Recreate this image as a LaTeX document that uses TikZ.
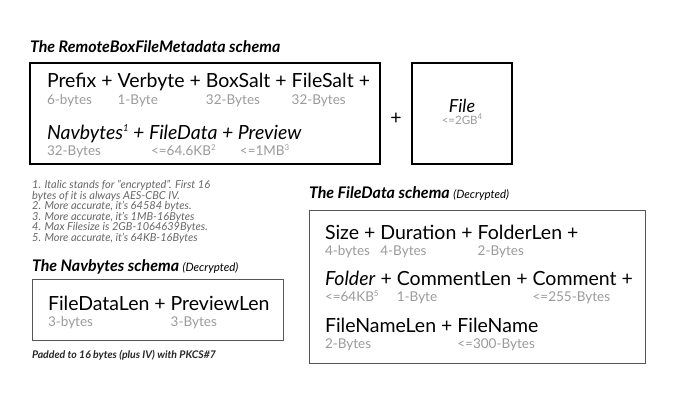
\documentclass[tikz,border=0pt]{standalone}
\usepackage{fontspec}
\setmainfont{Lato}
\usepackage{xcolor}
\definecolor{subgray}{HTML}{9A9A9A}
\definecolor{notegray}{HTML}{666666}
\definecolor{boxgray}{HTML}{555555}
\newcommand\subfnt{\fontsize{13.5}{13.5}\selectfont\color{subgray}}
\newcommand\wl[3][17pt]{\leavevmode\rlap{\raisebox{-#1}{\subfnt #3}}#2}
\newcommand\bigsup[1]{\raisebox{7.5pt}{\fontsize{9.5}{9.5}\selectfont #1}}
\newcommand\smsup[1]{\raisebox{5pt}{\fontsize{8}{8}\selectfont #1}}
\begin{document}
\begin{tikzpicture}[x=1pt,y=-1pt,
  mainfnt/.style={font=\fontsize{19.5}{19.5}\selectfont},
  txt/.style={anchor=base west,inner sep=0pt,outer sep=0pt},
  titlefnt/.style={font=\fontsize{16}{16}\selectfont\bfseries\itshape},
  bigbox/.style={draw=black,line width=1.6pt},
  graybox/.style={draw=boxgray,line width=1pt},
  notes/.style={font=\fontsize{11}{10.6}\selectfont\itshape,text=notegray,align=left}]
\useasboundingbox (0,0) rectangle (677,405);
% titles
\node[txt,titlefnt] (t1) at (30,52) {The RemoteBoxFileMetadata schema};
\node[txt,titlefnt] (t2) at (32,271) {The Navbytes schema {\fontsize{11.5}{11.5}\selectfont\mdseries(Decrypted)}};
\node[txt,titlefnt] (t3) at (309,198) {The FileData schema {\fontsize{11.5}{11.5}\selectfont\mdseries(Decrypted)}};
% boxes
\draw[bigbox] (30,63) rectangle (380,164);
\draw[bigbox] (412,63) rectangle (512,164);
\draw[graybox] (32,279) rectangle (283,340);
\draw[graybox] (309,210) rectangle (645,363);
% main box lines
\node[txt,mainfnt] (m1) at (47,87) {\wl{Prefix}{6-bytes} + \wl{Verbyte}{1-Byte} + \wl{BoxSalt}{32-Bytes} + \wl{FileSalt}{32-Bytes} +};
\node[txt,mainfnt] (m2) at (47,139) {\itshape\wl[16pt]{Navbytes\bigsup{1}}{\upshape 32-Bytes} + \wl[16pt]{FileData}{\upshape\kern2pt<=64.6KB\smsup{2}} + \wl[16pt]{Preview}{\upshape\kern2pt<=1MB\smsup{3}}};
% plus
\node[inner sep=0pt,font=\fontsize{19.5}{19.5}\selectfont] (plus) at (396,119) {+};
% file box
\node[txt,anchor=base,font=\fontsize{18}{18}\selectfont\itshape] (file) at (462,112) {File};
\node[txt,anchor=base,font=\fontsize{11.5}{11.5}\selectfont,text=subgray] (fsz) at (462,124) {<=2GB\smsup{4}};
% notes
\node[notes,anchor=north west,inner sep=0pt] (notes) at (32,180) {1. Italic stands for "encrypted". First 16\\bytes of it is always AES-CBC IV.\\2. More accurate, it's 64584 bytes.\\3. More accurate, it's 1MB-16Bytes\\4. Max Filesize is 2GB-1064639Bytes.\\5. More accurate, it's 64KB-16Bytes};
% navbytes
\node[txt,mainfnt] (n1) at (48,310) {\wl[16pt]{FileDataLen}{3-bytes} + \wl[16pt]{PreviewLen}{3-Bytes}};
\node[txt,font=\fontsize{10.5}{10.5}\selectfont\bfseries\itshape,text=black!85] (pad) at (32,358) {Padded to 16 bytes (plus IV) with PKCS\#7};
% filedata
\node[txt,mainfnt] (f1) at (325,239) {\wl[16pt]{Size}{4-bytes} + \wl[16pt]{Duration}{4-Bytes} + \wl[16pt]{FolderLen}{2-Bytes} +};
\node[txt,mainfnt] (f2) at (325,285) {\wl[16pt]{\textit{Folder}}{<=64KB\smsup{5}} + \wl[16pt]{CommentLen}{1-Byte} + \wl[16pt]{Comment}{<=255-Bytes} +};
\node[txt,mainfnt] (f3) at (325,332) {\wl[16pt]{FileNameLen}{2-Bytes} + \wl[16pt]{FileName}{<=300-Bytes}};
\end{tikzpicture}
\end{document}
